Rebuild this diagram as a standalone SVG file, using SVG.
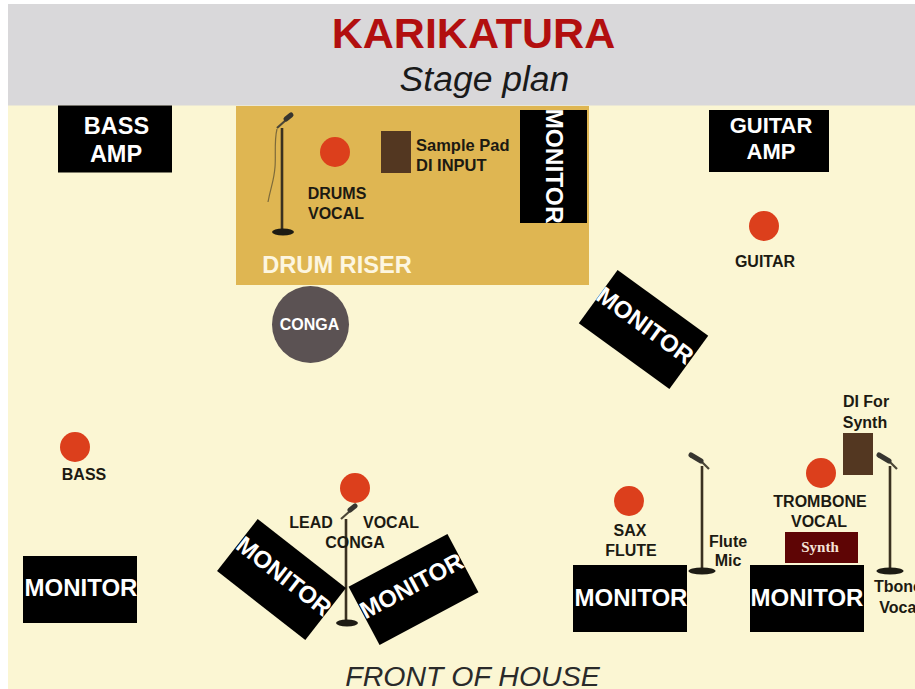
<svg xmlns="http://www.w3.org/2000/svg" width="915" height="689" viewBox="0 0 915 689">
<style>
text{font-family:"Liberation Sans",Arial,sans-serif;font-weight:700;text-anchor:middle}
.mon{fill:#000}
.mt{fill:#fff;font-size:24px}
.lab{fill:#1c1a12;font-size:16px}
.amp{fill:#fff;font-size:23.500px}
.amp2{fill:#fff;font-size:22px}
.dot{fill:#dc3f1c}
.di{fill:#533721}
.pole{stroke:#3a3120;stroke-width:2.600;fill:none}
.cable{stroke:#7d6a3a;stroke-width:1.200;fill:none}
.head{stroke:#37352f;stroke-width:5;stroke-linecap:round;fill:none}
.neck{stroke:#4b4636;stroke-width:2.200;fill:none}
.base{fill:#1d1b14}
</style>
<defs>
<g id="micR">
<line class="pole" x1="-1" y1="-103" x2="-1" y2="0"/>
<path class="neck" d="M-6-103 3-111"/>
<line class="head" x1="3" y1="-112" x2="8" y2="-116"/>
<ellipse class="base" cx="0" cy="1" rx="11" ry="3.500"/>
</g>
<g id="micL">
<line class="pole" x1="0" y1="-104" x2="0" y2="0"/>
<path class="neck" d="M0-108 7-101"/>
<line class="head" x1="-11" y1="-115" x2="-1" y2="-109"/>
<ellipse class="base" cx="0" cy="1" rx="13.500" ry="3.500"/>
</g>
</defs>
<rect width="915" height="689" fill="#fff"/>
<rect x="8" y="4" width="907" height="685" fill="#fbf6d3"/>
<rect x="8" y="4" width="907" height="101.500" fill="#d9d8da"/>
<g id="title">
<text x="473.500" y="48" font-size="43" fill="#b20f0f">KARIKATURA</text>
<text x="484.500" y="91" font-size="35.500" fill="#1a1a1a" style="font-weight:400;font-style:italic">Stage plan</text>
</g>
<g id="drum-riser">
<rect x="236" y="106" width="353" height="179" fill="#dfb652"/>
<text x="337" y="273" font-size="23.600" fill="#fdf6e0">DRUM RISER</text>
</g>
<g id="bass-amp">
<rect class="mon" x="58" y="105.500" width="114" height="67"/>
<text class="amp" x="116.500" y="134">BASS</text>
<text class="amp" x="116" y="162">AMP</text>
</g>
<g id="guitar-amp">
<rect class="mon" x="709" y="110" width="120" height="62"/>
<text class="amp2" x="771" y="133">GUITAR</text>
<text class="amp2" x="771" y="159">AMP</text>
</g>
<g id="drums-mic">
<use href="#micR" x="283" y="231"/>
<path class="cable" d="M277 129C274 141 276 156 275 167 274 181 271 186 268 202"/>
</g>
<g id="drums">
<circle class="dot" cx="335" cy="152" r="15"/>
<text class="lab" x="337" y="198.500">DRUMS</text>
<text class="lab" x="336" y="218.500">VOCAL</text>
</g>
<g id="sample-pad">
<rect class="di" x="381" y="131" width="30" height="42"/>
<text class="lab" x="416" y="151" style="text-anchor:start;font-size:16.500px">Sample Pad</text>
<text class="lab" x="416" y="171" style="text-anchor:start;font-size:16.500px">DI INPUT</text>
</g>
<g id="riser-monitor">
<rect class="mon" x="520" y="110" width="67" height="113"/>
<text class="mt" transform="translate(546 166) rotate(90)" style="font-size:24.500px">MONITOR</text>
</g>
<g id="guitar">
<circle class="dot" cx="764" cy="226" r="15"/>
<text class="lab" x="765" y="266.500">GUITAR</text>
</g>
<g id="conga">
<circle cx="310.500" cy="324.500" r="38.500" fill="#5b5253"/>
<text x="309.500" y="330" font-size="16" fill="#fff">CONGA</text>
</g>
<g id="angled-monitor">
<rect class="mon" x="-56" y="-33" width="112" height="66" transform="translate(643.500 329.500) rotate(36)"/>
<text class="mt" transform="translate(643.500 329.500) rotate(36)" x="-1" y="4">MONITOR</text>
</g>
<g id="bass">
<circle class="dot" cx="75" cy="447" r="15"/>
<text class="lab" x="84" y="479.500">BASS</text>
</g>
<g id="bass-monitor">
<rect class="mon" x="23" y="556" width="114" height="67"/>
<text class="mt" x="81" y="596">MONITOR</text>
</g>
<g id="lead-mic">
<use href="#micR" x="347" y="622"/>
</g>
<g id="lead">
<circle class="dot" cx="355" cy="488" r="15"/>
<text class="lab" x="311" y="527.500">LEAD</text>
<text class="lab" x="391" y="527.500">VOCAL</text>
<text class="lab" x="355" y="547.500">CONGA</text>
</g>
<g id="lead-monitor-left">
<rect class="mon" x="-56" y="-33" width="112" height="66" transform="translate(281.500 579.500) rotate(38)"/>
<text class="mt" transform="translate(281.500 579.500) rotate(38)" y="4">MONITOR</text>
</g>
<g id="lead-monitor-right">
<rect class="mon" x="-56" y="-33" width="112" height="66" transform="translate(413.500 589.500) rotate(-28)"/>
<text class="mt" transform="translate(413.500 589.500) rotate(-28)" y="4">MONITOR</text>
</g>
<g id="sax">
<circle class="dot" cx="629" cy="501" r="15"/>
<text class="lab" x="630" y="535.500">SAX</text>
<text class="lab" x="631" y="555.500">FLUTE</text>
</g>
<g id="sax-monitor">
<rect class="mon" x="573" y="565" width="114" height="67"/>
<text class="mt" x="631" y="606">MONITOR</text>
</g>
<g id="flute-mic">
<use href="#micL" x="702" y="570"/>
<text class="lab" x="728" y="546.500">Flute</text>
<text class="lab" x="728" y="565.500">Mic</text>
</g>
<g id="di-synth">
<rect class="di" x="843" y="433" width="30" height="42"/>
<text class="lab" x="866" y="406.500">DI For</text>
<text class="lab" x="865" y="427.500">Synth</text>
</g>
<g id="trombone">
<circle class="dot" cx="821" cy="473" r="15"/>
<text class="lab" x="820" y="506.500">TROMBONE</text>
<text class="lab" x="819" y="526.500">VOCAL</text>
</g>
<g id="synth">
<rect x="785" y="532" width="73" height="31" fill="#5e0505"/>
<text x="820" y="552" font-size="15" fill="#f5e3d8" style="font-family:'Liberation Serif',serif">Synth</text>
</g>
<g id="trombone-monitor">
<rect class="mon" x="750" y="565" width="114" height="67"/>
<text class="mt" x="807" y="606">MONITOR</text>
</g>
<g id="tbone-mic">
<use href="#micL" x="890" y="570"/>
<text class="lab" x="898" y="591.500">Tbone</text>
<text class="lab" x="900" y="612.500">Vocal</text>
</g>
<text x="472.500" y="686" font-size="28.500" fill="#2a2a2a" style="font-weight:400;font-style:italic">FRONT OF HOUSE</text>
</svg>
